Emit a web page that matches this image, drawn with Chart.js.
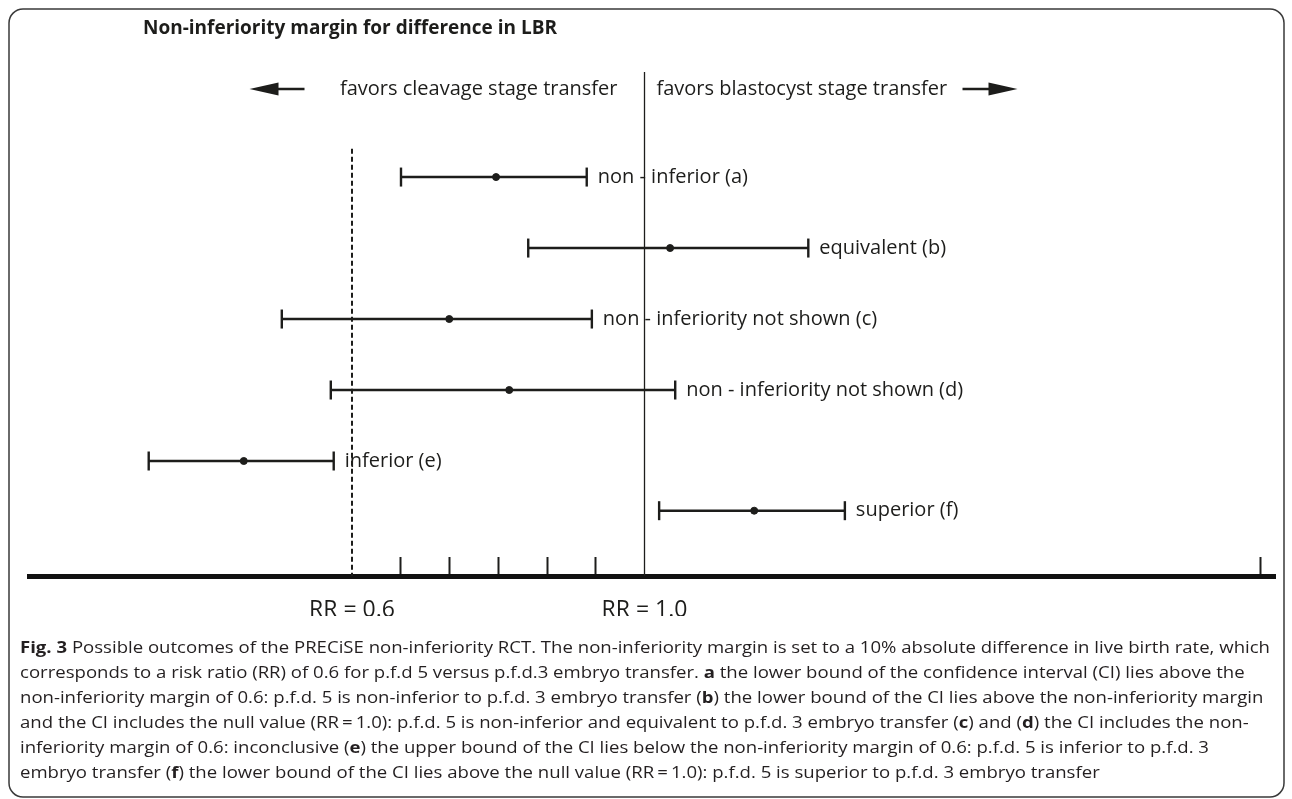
<!DOCTYPE html>
<html>
<head>
<meta charset="utf-8">
<script src="https://cdn.jsdelivr.net/npm/chart.js"></script>
<style>
  html, body { margin: 0; padding: 0; background: #fff; }
</style>
</head>
<body>
<canvas id="niChart" width="1292" height="799"></canvas>
<script>
  // outcome rows a-f, values on the risk ratio (RR) axis
  const rowLabels = ['non - inferior (a)', 'equivalent (b)', 'non - inferiority not shown (c)',
                     'non - inferiority not shown (d)', 'inferior (e)', 'superior (f)'];
  const rowPos   = [1, 2, 3, 4, 5, 5.7];
  const ciLow    = [0.667, 0.841, 0.504, 0.571, 0.322, 1.020];
  const pointEst = [0.797, 1.035, 0.733, 0.815, 0.452, 1.150];
  const ciHigh   = [0.921, 1.224, 0.928, 1.042, 0.575, 1.274];

  const marginRR = 0.6;   // non-inferiority margin (dashed)
  const nullRR = 1.0;     // null value (solid)
  const tickValues = [0.6, 0.6667, 0.7333, 0.8, 0.8667, 0.9333, 1.0, 1.8417];
  const tickLabels = ['RR = 0.6', '', '', '', '', '', 'RR = 1.0', ''];

  const captionLines = [
    '**Fig. 3** Possible outcomes of the PRECiSE non-inferiority RCT. The non-inferiority margin is set to a 10% absolute difference in live birth rate, which',
    'corresponds to a risk ratio (RR) of 0.6 for p.f.d 5 versus p.f.d.3 embryo transfer. **a** the lower bound of the confidence interval (CI) lies above the',
    'non-inferiority margin of 0.6: p.f.d. 5 is non-inferior to p.f.d. 3 embryo transfer (**b**) the lower bound of the CI lies above the non-inferiority margin',
    'and the CI includes the null value (RR\u2009=\u20091.0): p.f.d. 5 is non-inferior and equivalent to p.f.d. 3 embryo transfer (**c**) and (**d**) the CI includes the non-',
    'inferiority margin of 0.6: inconclusive (**e**) the upper bound of the CI lies below the non-inferiority margin of 0.6: p.f.d. 5 is inferior to p.f.d. 3',
    'embryo transfer (**f**) the lower bound of the CI lies above the null value (RR\u2009=\u20091.0): p.f.d. 5 is superior to p.f.d. 3 embryo transfer'
  ];

  const INK = '#1d1d1b';
  const Y_MIN = -0.48, Y_MAX = 6.62;

  const ciSets = rowLabels.map((lab, i) => ({
    label: lab,
    data: [{x: ciLow[i], y: rowPos[i]}, {x: pointEst[i], y: rowPos[i]}, {x: ciHigh[i], y: rowPos[i]}],
    showLine: true,
    borderColor: INK,
    borderWidth: 2.4,
    pointStyle: ['line', 'circle', 'line'],
    pointRotation: [90, 0, 90],
    pointRadius: [9.5, 3.5, 9.5],
    pointBorderWidth: [2.4, 1, 2.4],
    pointBorderColor: INK,
    pointBackgroundColor: INK,
    clip: false
  }));

  const refSets = [
    { label: 'margin', data: [{x: marginRR, y: 0.6}, {x: marginRR, y: Y_MAX}], showLine: true,
      borderColor: INK, borderWidth: 2, borderDash: [5, 3], pointRadius: 0, clip: false },
    { label: 'null', data: [{x: nullRR, y: Y_MIN}, {x: nullRR, y: Y_MAX}], showLine: true,
      borderColor: INK, borderWidth: 1.3, pointRadius: 0, clip: false }
  ];

  function drawSegs(ctx, line, x, y, size, sx) {
    const parts = line.split('**');
    ctx.save();
    ctx.translate(x, y);
    ctx.scale(sx, 1);
    let cx = 0;
    parts.forEach((p, k) => {
      ctx.font = (k % 2 ? 'bold ' : '') + size + 'px "Open Sans"';
      ctx.fillText(p, cx, 0);
      cx += ctx.measureText(p).width;
    });
    ctx.restore();
  }
  function segWidth(ctx, line, size) {
    let w = 0;
    line.split('**').forEach((p, k) => {
      ctx.font = (k % 2 ? 'bold ' : '') + size + 'px "Open Sans"';
      w += ctx.measureText(p).width;
    });
    return w;
  }

  const decor = {
    id: 'decor',
    afterDatasetsDraw(chart) {
      const ctx = chart.ctx;
      const xs = chart.scales.x, ys = chart.scales.y;
      ctx.save();
      ctx.fillStyle = INK;
      ctx.textBaseline = 'middle';
      ctx.font = '20px "Open Sans"';
      rowLabels.forEach((lab, i) => {
        ctx.fillText(lab, xs.getPixelForValue(ciHigh[i]) + 11, ys.getPixelForValue(rowPos[i]));
      });
      ctx.restore();
    },
    afterDraw(chart) {
      const ctx = chart.ctx;
      const xs = chart.scales.x;
      const nx = xs.getPixelForValue(nullRR);
      ctx.save();
      ctx.fillStyle = INK;
      ctx.strokeStyle = INK;
      ctx.textBaseline = 'middle';

      // title
      ctx.font = 'bold 19px "Open Sans"';
      ctx.fillText('Non-inferiority margin for difference in LBR', 143, 29);

      // direction texts + arrows
      const fy = 89;
      ctx.font = '20px "Open Sans"';
      ctx.textAlign = 'right';
      ctx.fillText('favors cleavage stage transfer', nx - 27, fy);
      ctx.textAlign = 'left';
      ctx.fillText('favors blastocyst stage transfer', nx + 12, fy);
      ctx.lineWidth = 2.5;
      ctx.beginPath();
      ctx.moveTo(nx - 340, fy); ctx.lineTo(nx - 372, fy);
      ctx.moveTo(nx + 318, fy); ctx.lineTo(nx + 350, fy);
      ctx.stroke();
      ctx.beginPath();
      ctx.moveTo(nx - 395, fy); ctx.lineTo(nx - 366, fy - 6.5); ctx.lineTo(nx - 366, fy + 6.5); ctx.closePath();
      ctx.moveTo(nx + 373, fy); ctx.lineTo(nx + 344, fy - 6.5); ctx.lineTo(nx + 344, fy + 6.5); ctx.closePath();
      ctx.fill();

      // caption
      const size = 16;
      const sx = 1250 / segWidth(ctx, captionLines[0], size);
      ctx.fillStyle = '#231f20';
      captionLines.forEach((ln, i) => drawSegs(ctx, ln, 20, 648 + i * 25, size, sx));

      // frame
      ctx.strokeStyle = '#3a3a3a';
      ctx.lineWidth = 1.5;
      ctx.beginPath();
      ctx.roundRect(9, 9, 1275, 788, 14);
      ctx.stroke();
      ctx.restore();
    }
  };

  new Chart(document.getElementById('niChart').getContext('2d'), {
    type: 'scatter',
    data: { datasets: ciSets.concat(refSets) },
    options: {
      responsive: false,
      animation: false,
      events: [],
      layout: { padding: { left: 29, right: 17, top: 72, bottom: 183 } },
      plugins: { legend: { display: false }, tooltip: { enabled: false } },
      scales: {
        x: {
          type: 'linear',
          min: 0.1583,
          max: 1.8622,
          afterBuildTicks: s => { s.ticks = tickValues.map(v => ({ value: v })); },
          afterFit: s => { s.height = 40; s.paddingLeft = 0; s.paddingRight = 0; },
          ticks: {
            autoSkip: false,
            maxRotation: 0,
            padding: 40,
            color: INK,
            font: { family: 'Open Sans', size: 23 },
            callback: v => tickLabels[tickValues.indexOf(v)]
          },
          grid: {
            display: true,
            drawOnChartArea: false,
            drawTicks: true,
            tickLength: -19,
            tickWidth: 2,
            tickColor: c => (c.tick && (c.tick.value === marginRR || c.tick.value === nullRR)) ? 'rgba(0,0,0,0)' : INK
          },
          border: { display: true, width: 5, color: '#111' }
        },
        y: { type: 'linear', reverse: true, min: Y_MIN, max: Y_MAX, display: false }
      }
    },
    plugins: [decor]
  });
</script>
</body>
</html>
